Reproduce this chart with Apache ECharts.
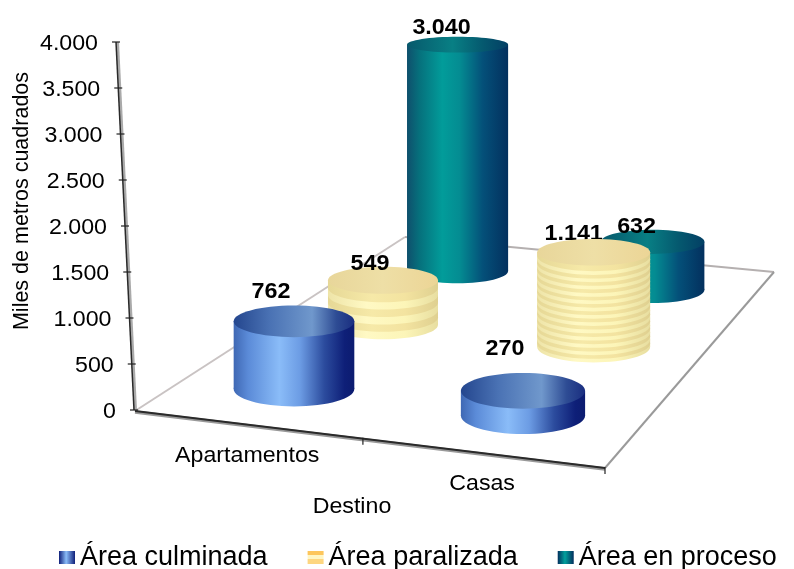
<!DOCTYPE html>
<html>
<head>
<meta charset="utf-8">
<title>Destino</title>
<script src="https://cdn.jsdelivr.net/npm/echarts@6/dist/echarts.min.js"></script>
<style>
    html, body { margin: 0; padding: 0; background: #fff; }
    #main { width: 794px; height: 569px; }
</style>
</head>
<body>
<div id="main"></div>
<script type="text/javascript">
    // data
    var categories = ['Apartamentos', 'Casas'];
    var seriesNames = ['Área culminada', 'Área paralizada', 'Área en proceso'];
    var areaCulminada = [762, 270];
    var areaParalizada = [549, 1141];
    var areaEnProceso = [3040, 632];
    var yTicks = [0, 500, 1000, 1500, 2000, 2500, 3000, 3500, 4000];
    var yTitle = 'Miles de metros cuadrados';
    var xTitle = 'Destino';

    // look of the fake 3d scene
    var FONT = '"Liberation Sans", Arial, sans-serif';
    var floorA = [135, 411], floorB = [405, 237], floorC = [774, 272], floorD = [605, 468];
    var axisTop = [116, 42], axisBottom = [134, 410];
    var depthPos = [1 / 6, 1 / 2, 5 / 6];
    var catPos = [0.24, 0.75];
    var baseRadius = 62.5;
    var stripeCounts = [3, 13];
    var labelNudge = [
        [[-23, -29], [-18, -42]],
        [[-13, -16], [-20, -18]],
        [[-16, -17], [-16, -15]]
    ];

    function grad(stops) {
        return new echarts.graphic.LinearGradient(0, 0, 1, 0, stops.map(function (s) {
            return { offset: s[0], color: s[1] };
        }));
    }
    var sideColor = [
        grad([[0, '#3f68b4'], [0.12, '#5b8bd8'], [0.38, '#8abcf8'], [0.55, '#6c9ce4'], [0.75, '#2c4c9e'], [0.92, '#0e1f78'], [1, '#0c1c70']]),
        null,
        grad([[0, '#0f4f6c'], [0.12, '#06707c'], [0.35, '#029c9a'], [0.52, '#048c92'], [0.75, '#045079'], [1, '#03305e']])
    ];
    var capColor = [
        grad([[0, '#24468e'], [0.3, '#4a72b4'], [0.65, '#7098cc'], [0.85, '#2e4c94'], [1, '#1a2e80']]),
        grad([[0, '#e8d69a'], [0.5, '#eedfa6'], [1, '#ecd596']]),
        grad([[0, '#07596c'], [0.45, '#087f84'], [0.75, '#05596f'], [1, '#033f64']])
    ];
    var stripeLight = grad([[0, '#eee4a8'], [0.35, '#fff9c4'], [0.7, '#fcf5b8'], [1, '#e8dea0']]);
    var stripeDark = grad([[0, '#e6d896'], [0.4, '#f6e9a8'], [0.7, '#f3e3a0'], [1, '#dfd090']]);
    var legendColor = [
        new echarts.graphic.LinearGradient(0, 0, 1, 0, [
            { offset: 0, color: '#10207a' }, { offset: 0.45, color: '#8abcf8' }, { offset: 1, color: '#10207a' }
        ]),
        new echarts.graphic.LinearGradient(0, 0, 0, 1, [
            { offset: 0, color: '#fdc65c' }, { offset: 0.3, color: '#fdc65c' }, { offset: 0.3, color: '#fff6c4' },
            { offset: 0.65, color: '#fff6c4' }, { offset: 0.65, color: '#fdd680' }, { offset: 1, color: '#fdd680' }
        ]),
        new echarts.graphic.LinearGradient(0, 0, 1, 0, [
            { offset: 0, color: '#03305e' }, { offset: 0.45, color: '#02a09c' }, { offset: 1, color: '#03305e' }
        ])
    ];

    // homography from the unit square to the floor quad
    var H = (function () {
        var sx = floorA[0] - floorD[0] + floorC[0] - floorB[0];
        var sy = floorA[1] - floorD[1] + floorC[1] - floorB[1];
        var dx1 = floorD[0] - floorC[0], dy1 = floorD[1] - floorC[1];
        var dx2 = floorB[0] - floorC[0], dy2 = floorB[1] - floorC[1];
        var den = dx1 * dy2 - dx2 * dy1;
        var g = (sx * dy2 - dx2 * sy) / den;
        var h = (dx1 * sy - sx * dy1) / den;
        return {
            a: floorD[0] - floorA[0] + g * floorD[0], b: floorB[0] - floorA[0] + h * floorB[0], c: floorA[0],
            d: floorD[1] - floorA[1] + g * floorD[1], e: floorB[1] - floorA[1] + h * floorB[1], f: floorA[1],
            g: g, h: h
        };
    })();
    function project(u, v) {
        var w = H.g * u + H.h * v + 1;
        return { x: (H.a * u + H.b * v + H.c) / w, y: (H.d * u + H.e * v + H.f) / w, w: w };
    }
    // ellipses get flatter the higher they sit in the picture
    function flatness(y) {
        return 0.14 + 0.00038 * y;
    }
    function fmt(v) {
        return String(v).replace(/\B(?=(\d{3})+$)/g, '.');
    }
    function textEl(str, x, y, align, size, bold, rot) {
        return {
            type: 'text',
            x: x,
            y: y,
            rotation: rot || 0,
            scaleX: rot ? 1 : (bold ? 1.06 : 1.03),
            style: {
                text: str,
                x: 0,
                y: 0,
                align: align,
                verticalAlign: 'middle',
                font: (bold ? 'bold ' : '') + size + 'px ' + FONT,
                fill: '#000'
            }
        };
    }
    function lineEl(p, q, color, width) {
        return {
            type: 'line',
            shape: { x1: p[0], y1: p[1], x2: q[0], y2: q[1] },
            style: { stroke: color, lineWidth: width }
        };
    }

    // floor outline, slanted value axis, ticks and all axis texts
    function renderFrame(params, api) {
        var kids = [
            lineEl(floorA, floorB, '#c9c3c3', 2),
            lineEl(floorB, floorC, '#b5b0b0', 2),
            lineEl(floorC, floorD, '#9a9a9a', 2),
            lineEl([floorA[0], floorA[1] + 1], [floorD[0], floorD[1] + 1], '#999', 3.5),
            lineEl(floorA, floorD, '#2a2a2a', 2),
            lineEl([axisTop[0] + 1.5, axisTop[1]], [axisBottom[0] + 1.5, axisBottom[1]], '#aaa', 3),
            lineEl(axisTop, axisBottom, '#2a2a2a', 1.5)
        ];
        yTicks.forEach(function (t) {
            var y = api.coord([0, t])[1];
            var x = axisTop[0] + (axisBottom[0] - axisTop[0]) * (y - axisTop[1]) / (axisBottom[1] - axisTop[1]);
            kids.push(lineEl([x - 4, y], [x + 4, y], '#222', 1.2));
            kids.push(textEl(fmt(t), x - 18, y + 2, 'right', 22.5, false));
        });
        [0.5, 1].forEach(function (u) {
            var p = project(u, 0);
            kids.push(lineEl([p.x, p.y - 1], [p.x, p.y + 6], '#222', 1.2));
        });
        categories.forEach(function (c, i) {
            var p = project(i + 0.5 > 1 ? 0.75 : 0.25, 0);
            kids.push(textEl(c, p.x, p.y + 31, 'center', 22.5, false));
        });
        kids.push(textEl(xTitle, 352, 507, 'center', 22.5, false));
        kids.push(textEl(yTitle, 22, 201, 'center', 21.5, false, Math.PI / 2));
        return { type: 'group', children: kids };
    }

    function renderCylinder(params, api) {
        var s = params.seriesIndex - 1;
        var cat = api.value(0);
        var val = api.value(1);
        var base = project(catPos[cat], depthPos[s]);
        var cx = base.x;
        var rx = baseRadius / base.w;
        var h = api.size([0, val])[1] / base.w;
        var yb = base.y + 2;
        var yt = yb - h;
        var ryb = rx * flatness(yb);
        var ryt = rx * flatness(yt);
        var kids = [];

        function band(top, bottom, fill) {
            kids.push({ type: 'ellipse', shape: { cx: cx, cy: bottom, rx: rx, ry: ryb }, style: { fill: fill } });
            kids.push({ type: 'rect', shape: { x: cx - rx, y: top, width: rx * 2, height: bottom - top }, style: { fill: fill } });
        }
        if (s === 1) {
            var n = stripeCounts[cat] * 2;
            for (var i = 0; i < n; i++) {
                band(yb - h * (i + 1) / n, yb - h * i / n, i % 2 ? stripeDark : stripeLight);
            }
        } else {
            band(yt, yb, sideColor[s]);
        }
        kids.push({ type: 'ellipse', shape: { cx: cx, cy: yt, rx: rx, ry: ryt }, style: { fill: capColor[s] } });

        var nudge = labelNudge[s][cat];
        var label = textEl(fmt(val), cx + nudge[0], yt + nudge[1], 'center', 22, true);
        // the 1.141 label sits partly behind its own cap
        if (s === 1 && cat === 1) {
            kids.unshift(label);
        } else {
            kids.push(label);
        }
        return { type: 'group', children: kids };
    }

    function toData(values) {
        return values.map(function (v, i) { return [i, v]; });
    }

    var seriesValues = [areaCulminada, areaParalizada, areaEnProceso];
    var seriesList = [{
        type: 'custom',
        name: 'frame',
        z: 1,
        silent: true,
        renderItem: renderFrame,
        data: [[0, 0]]
    }];
    seriesNames.forEach(function (name, i) {
        seriesList.push({
            type: 'custom',
            name: name,
            z: 5 - i,
            renderItem: renderCylinder,
            encode: { x: 0, y: 1 },
            itemStyle: { color: legendColor[i] },
            data: toData(seriesValues[i])
        });
    });

    var myChart = echarts.init(document.getElementById('main'));
    var option = {
        animation: false,
        backgroundColor: '#fff',
        grid: { left: 135, right: 20, top: 42, bottom: 159 },
        legend: {
            left: 54,
            bottom: -7,
            itemWidth: 16,
            itemHeight: 13,
            itemGap: 40,
            data: seriesNames.map(function (n, i) {
                return { name: n, icon: 'rect', itemStyle: { color: legendColor[i] } };
            }),
            textStyle: { fontFamily: FONT, fontSize: 27, color: '#000' }
        },
        xAxis: { type: 'category', data: categories, show: false },
        yAxis: { type: 'value', min: 0, max: 4000, interval: 500, show: false },
        series: seriesList
    };
    myChart.setOption(option);
</script>
</body>
</html>
